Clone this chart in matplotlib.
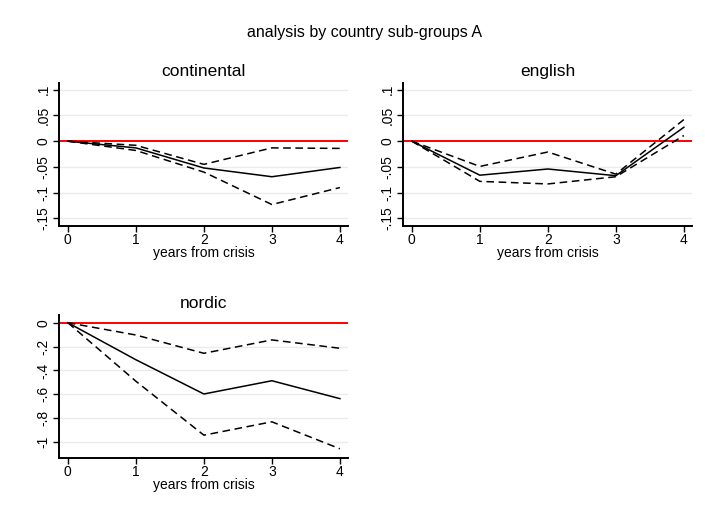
import matplotlib
matplotlib.use("Agg")
import matplotlib.pyplot as plt

plt.rcParams["font.family"] = ["Liberation Sans", "DejaVu Sans"]

years = [0, 1, 2, 3, 4]

# point estimate and upper / lower bands per country group
cont_est = [0, -0.013, -0.052, -0.069, -0.051]
cont_hi = [0, -0.008, -0.045, -0.013, -0.014]
cont_lo = [0, -0.018, -0.060, -0.123, -0.090]

eng_est = [0, -0.066, -0.054, -0.067, 0.027]
eng_hi = [0, -0.049, -0.021, -0.064, 0.042]
eng_lo = [0, -0.078, -0.083, -0.069, 0.011]

nord_est = [0, -0.31, -0.597, -0.486, -0.636]
nord_hi = [0, -0.103, -0.256, -0.144, -0.214]
nord_lo = [0, -0.49, -0.942, -0.83, -1.056]

small_ticks = [0.1, 0.05, 0, -0.05, -0.1, -0.15]
small_labels = [".1", ".05", "0", "-.05", "-.1", "-.15"]
nord_ticks = [0, -0.2, -0.4, -0.6, -0.8, -1]
nord_labels = ["0", "-.2", "-.4", "-.6", "-.8", "-1"]


def panel(ax, title, est, hi, lo, ticks, labels, ylim):
    for t in ticks:
        if t != 0:
            ax.axhline(t, color="#ebebeb", linewidth=1, zorder=0)
    ax.axhline(0, color="red", linewidth=1.4, zorder=1)
    ax.plot(years, est, color="black", linewidth=1.1, zorder=3)
    ax.plot(years, hi, color="black", linewidth=1.1, dashes=(5, 3), zorder=3)
    ax.plot(years, lo, color="black", linewidth=1.1, dashes=(5, 3), zorder=3)
    ax.set_xlim(-0.13, 4.12)
    ax.set_ylim(*ylim)
    ax.set_xticks(years)
    ax.set_yticks(ticks)
    ax.set_yticklabels(labels, rotation=90, va="center")
    ax.tick_params(axis="y", labelsize=10, length=4, width=1, pad=2)
    ax.tick_params(axis="x", labelsize=10, length=4, width=1, pad=1)
    for s in ("top", "right"):
        ax.spines[s].set_visible(False)
    for s in ("left", "bottom"):
        ax.spines[s].set_linewidth(1.4)
    ax.set_title(title, fontsize=12.5, pad=5)
    ax.set_xlabel("years from crisis", fontsize=10, labelpad=-1)


fig = plt.figure(figsize=(7.05, 5.14), dpi=100)
fig.text(0.517, 0.936, "analysis by country sub-groups A", ha="center",
         va="center", fontsize=11.5)

ax1 = fig.add_axes([0.0837, 0.560, 0.41, 0.2785])
ax2 = fig.add_axes([0.5716, 0.560, 0.41, 0.2785])
ax3 = fig.add_axes([0.0837, 0.109, 0.41, 0.278])

panel(ax1, "continental", cont_est, cont_hi, cont_lo,
      small_ticks, small_labels, (-0.165, 0.113))
panel(ax2, "english", eng_est, eng_hi, eng_lo,
      small_ticks, small_labels, (-0.165, 0.113))
panel(ax3, "nordic", nord_est, nord_hi, nord_lo,
      nord_ticks, nord_labels, (-1.133, 0.064))

fig.savefig("out.png", dpi=100)
